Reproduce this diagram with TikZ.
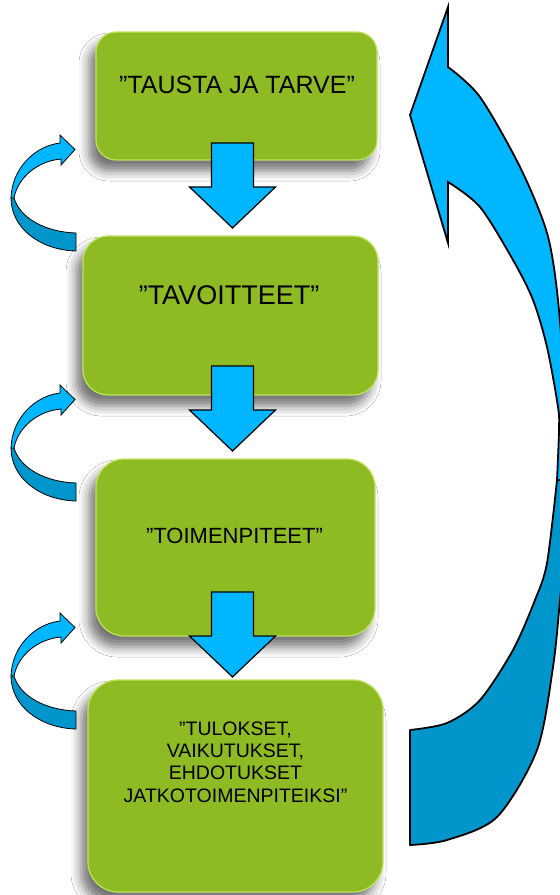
\documentclass[tikz,border=0pt]{standalone}
\usepackage{fontspec}
\setmainfont{Liberation Sans}
\usetikzlibrary{shadows.blur}
\definecolor{boxgreen}{RGB}{142,187,35}
\definecolor{boxedge}{RGB}{190,228,95}
\definecolor{lightblue}{RGB}{0,183,255}
\definecolor{darkblue}{RGB}{0,150,204}
\begin{document}
\begin{tikzpicture}[x=1pt,y=-1pt,
  stepbox/.style={draw=boxedge, line width=1.2pt, fill=boxgreen, inner sep=0pt,
    blur shadow={shadow xshift=-7pt, shadow yshift=-11pt, shadow blur radius=10pt, shadow opacity=55}},
  boxtext/.style={font=\fontsize{#1}{#1}\selectfont, inner sep=0pt, text=black},
  arrowline/.style={draw=black, line width=1.2pt, line join=miter},
  downarr/.pic={\path[arrowline, fill=lightblue]
      (-21,0) -- (21,0) -- (21,44) -- (43,44) -- (0,85) -- (-43,44) -- (-21,44) -- cycle;},
  loopback/.pic={
    \path[draw=black, line width=0.8pt, fill=darkblue]
      (11,198) .. controls (11,228) and (40,250) .. (76,251) -- (76,233)
      .. controls (45,232) and (20,218) .. (14,198) -- cycle;
    \path[draw=black, line width=0.8pt, fill=lightblue, line join=miter]
      (11,198) .. controls (12,168) and (35,146) .. (60,143) -- (60,135) -- (75,149.5)
      -- (61,165) -- (61,159) .. controls (38,161) and (18,177) .. (14,198) -- cycle;}
]
\useasboundingbox (0,0) rectangle (560,895);
\clip (0,0) rectangle (560,895);
\fill[white] (0,0) rectangle (560,895);

% boxes
\node[stepbox, rounded corners=20pt, minimum width=281pt, minimum height=128pt] (b1) at (236.5,96) {};
\node[stepbox, rounded corners=25pt, minimum width=295pt, minimum height=159pt] (b2) at (230.5,315.5) {};
\node[stepbox, rounded corners=28pt, minimum width=279pt, minimum height=177pt] (b3) at (235.5,547.5) {};
\node[stepbox, rounded corners=30pt, minimum width=295pt, minimum height=212pt] (b4) at (235.5,786) {};

% texts
\node[boxtext=25] (t1) at (237,85) {”TAUSTA JA TARVE”};
\node[boxtext=27] (t2) at (229,295) {”TAVOITTEET”};
\node[boxtext=22] (t3) at (234.5,535.5) {”TOIMENPITEET”};
\node[boxtext=19.5, align=center, font=\fontsize{19.5}{22.3}\selectfont] (t4) at (235.5,762)
  {”TULOKSET,\\VAIKUTUKSET,\\EHDOTUKSET\\JATKOTOIMENPITEIKSI”};

% down block arrows
\pic at (232.5,143) {downarr};
\pic at (232.5,366) {downarr};
\pic at (232.5,592) {downarr};

% small loop-back arrows
\pic at (0,0) {loopback};
\pic at (0,250) {loopback};
\pic at (0,478) {loopback};

% big return arrow
\path[draw=black, line width=1.8pt, fill=darkblue, line join=round]
  (567,480) -- plot[smooth] coordinates {(567,480) (565,540) (560,600) (553,667) (537,750) (497,817) (447,840) (410,845)}
  -- (410,730)
  -- plot[smooth] coordinates {(410,730) (447,723) (480,700) (513,650) (535,600) (547,563) (557,480)}
  -- cycle;
\path[draw=black, line width=1.8pt, fill=lightblue, line join=miter]
  (448,182) -- (448,243) -- (410,115) -- (448,7) -- (448,67)
  -- plot[smooth] coordinates {(448,67) (480,97) (520,167) (547,233) (558,300) (565,400) (567,480)}
  -- (557,480)
  -- plot[smooth] coordinates {(557,480) (559,430) (558,407) (547,347) (533,300) (513,260) (480,207) (448,182)}
  -- cycle;
\end{tikzpicture}
\end{document}
